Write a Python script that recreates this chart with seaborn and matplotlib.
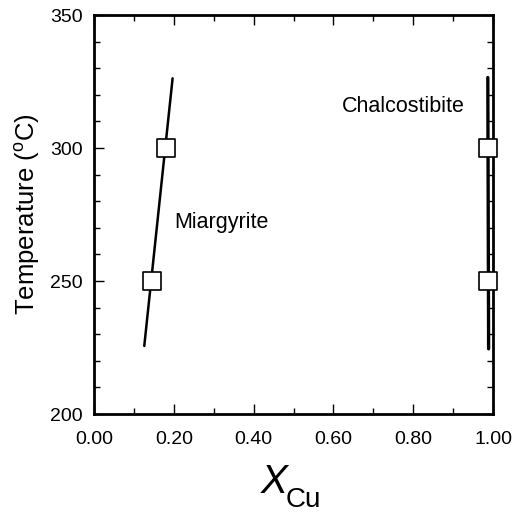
import matplotlib
matplotlib.use("Agg")
import matplotlib.pyplot as plt
from matplotlib.ticker import MultipleLocator
import seaborn as sns
import pandas as pd

# measured points
mia_x = [0.145, 0.180]
mia_t = [250, 300]
chal_x = [0.988, 0.988]
chal_t = [250, 300]

# fitted lines (end points)
mia_line_x = [0.126, 0.197]
mia_line_t = [225.6, 326.2]
chal_line_x = [0.989, 0.987]
chal_line_t = [224.5, 326.5]

sns.set_theme(style="ticks")
plt.rcParams["font.family"] = ["Liberation Sans", "DejaVu Sans"]
plt.rcParams["mathtext.fontset"] = "custom"
plt.rcParams["mathtext.rm"] = "Liberation Sans"
plt.rcParams["mathtext.it"] = "Liberation Sans:italic"
plt.rcParams["text.color"] = "black"
plt.rcParams["axes.labelcolor"] = "black"
plt.rcParams["xtick.color"] = "black"
plt.rcParams["ytick.color"] = "black"
plt.rcParams["axes.edgecolor"] = "black"

fig = plt.figure(figsize=(5.21, 5.14), dpi=100)
ax = fig.add_axes([94 / 521, 100 / 514, 399 / 521, 399 / 514])

sns.lineplot(x=mia_line_x, y=mia_line_t, color="black", lw=1.8, ax=ax, sort=False)
sns.lineplot(x=chal_line_x, y=chal_line_t, color="black", lw=2.4, ax=ax, sort=False)

pts = pd.DataFrame({"x": mia_x + chal_x, "t": mia_t + chal_t})
sns.scatterplot(data=pts, x="x", y="t", marker="s", s=150, color="white",
                edgecolor="black", linewidth=1.2, ax=ax, zorder=5)
for c in ax.collections:
    c.set_clip_on(False)

ax.text(0.2, 272, "Miargyrite", fontsize=15.5, va="center", ha="left")
ax.text(0.62, 315.5, "Chalcostibite", fontsize=15.5, va="center", ha="left")

ax.set_xlim(0, 1)
ax.set_ylim(200, 350)
ax.set_xticks([0, 0.2, 0.4, 0.6, 0.8, 1.0])
ax.set_xticklabels(["0.00", "0.20", "0.40", "0.60", "0.80", "1.00"])
ax.set_yticks([200, 250, 300, 350])
ax.xaxis.set_minor_locator(MultipleLocator(0.1))
ax.yaxis.set_minor_locator(MultipleLocator(10))
ax.tick_params(which="both", direction="in", top=True, right=True, labelsize=14, width=1)
ax.tick_params(axis="x", which="major", length=7, pad=12)
ax.tick_params(axis="y", which="major", length=7, pad=8)
ax.tick_params(which="minor", length=4)
for s in ax.spines.values():
    s.set_linewidth(2)

# x label: italic X with a lowered "Cu" subscript
ax.set_xlabel("")
fig.text(261 / 521, 21 / 514, "X", fontsize=29, fontstyle="italic", va="baseline", ha="left")
fig.text(286 / 521, 7 / 514, "Cu", fontsize=20, va="baseline", ha="left")
ax.set_ylabel(r"Temperature ($^{\mathrm{o}}$C)", fontsize=18.5, labelpad=6)

fig.savefig("out.png", dpi=100)
